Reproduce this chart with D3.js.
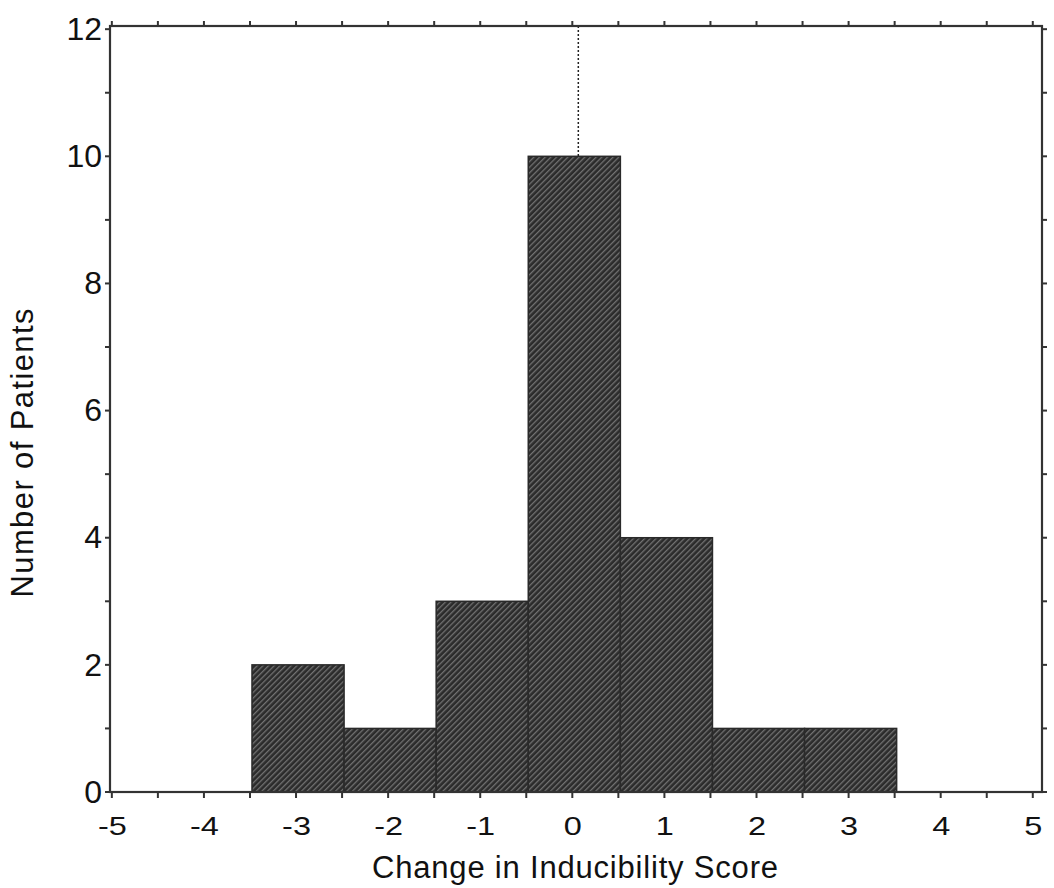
<!DOCTYPE html>
<html><head><meta charset="utf-8">
<script src="https://cdn.jsdelivr.net/npm/d3@7"></script>
<style>
html,body{margin:0;padding:0;background:#fff;}
svg text{font-family:"Liberation Sans",Arial,sans-serif;fill:#111;}
</style></head>
<body>
<svg id="chart" width="1054" height="888"></svg>
<script>
// Data
const binCenters = [-3, -2, -1, 0, 1, 2, 3];
const counts = [2, 1, 3, 10, 4, 1, 1];
const xTickValues = [-5, -4, -3, -2, -1, 0, 1, 2, 3, 4, 5];
const yTickValues = [0, 2, 4, 6, 8, 10, 12];
const xTitle = "Change in Inducibility Score";
const yTitle = "Number of Patients";
const refLineX = 0;

(function () {
const svg = d3.select("#chart");
const pLeft = 110, pRight = 1042, pTop = 26, pBottom = 792;

const x = d3.scaleLinear().domain([-5.02, 5.1]).range([pLeft, pRight]);
const y = d3.scaleLinear().domain([0, 12.05]).range([pBottom, pTop]);

// hatch pattern
const defs = svg.append("defs");
const pat = defs.append("pattern").attr("id", "hatch")
  .attr("patternUnits", "userSpaceOnUse").attr("width", 4).attr("height", 4)
  .attr("patternTransform", "rotate(-45)");
pat.append("rect").attr("width", 4).attr("height", 4).attr("fill", "#2b2b2b");
pat.append("rect").attr("width", 4).attr("height", 1.3).attr("fill", "#727272");

// bars
svg.append("g").selectAll("rect").data(binCenters).enter().append("rect")
  .attr("x", (d) => x(d - 0.5) + 2)
  .attr("width", (d) => x(d + 0.5) - x(d - 0.5))
  .attr("y", (d, i) => y(counts[i]))
  .attr("height", (d, i) => y(0) - y(counts[i]))
  .attr("fill", "url(#hatch)")
  .attr("stroke", "#2a2a2a").attr("stroke-width", 1.5);

// reference dotted line from top to top of bar at 0
const i0 = binCenters.indexOf(refLineX);
svg.append("line")
  .attr("x1", x(refLineX) + 6).attr("x2", x(refLineX) + 6)
  .attr("y1", pTop).attr("y2", y(counts[i0]))
  .attr("stroke", "#222").attr("stroke-width", 1.5).attr("stroke-dasharray", "2,2");

// frame
svg.append("rect").attr("x", pLeft).attr("y", pTop)
  .attr("width", pRight - pLeft).attr("height", pBottom - pTop)
  .attr("fill", "none").attr("stroke", "#333").attr("stroke-width", 2.2);

const halfTicks = d3.range(-5, 5.01, 0.5);
const unitTicks = d3.range(0, 12.01, 1);

// bottom axis
const xAxis = d3.axisBottom(x).tickValues(xTickValues).tickSize(0).tickPadding(25)
  .tickFormat(d => d < 0 ? "-" + Math.abs(d) : String(d));
const gx = svg.append("g").attr("transform", `translate(0,${pBottom})`).call(xAxis);
gx.select(".domain").remove();
gx.selectAll("text").attr("font-size", 25).attr("fill", "#111")
  .attr("font-family", "'Liberation Sans',Arial,sans-serif")
  .attr("transform", "scale(1.3,1)");
svg.append("g").selectAll("line").data(halfTicks).enter().append("line")
  .attr("x1", d => x(d)).attr("x2", d => x(d))
  .attr("y1", pBottom).attr("y2", pBottom + 6).attr("stroke", "#333").attr("stroke-width", 2);
// top ticks
svg.append("g").selectAll("line").data(halfTicks).enter().append("line")
  .attr("x1", d => x(d)).attr("x2", d => x(d))
  .attr("y1", pTop).attr("y2", pTop - 5).attr("stroke", "#333").attr("stroke-width", 2);

// left axis
const yAxis = d3.axisLeft(y).tickValues(yTickValues).tickSize(0).tickPadding(8)
  .tickFormat(d3.format("d"));
const gy = svg.append("g").attr("transform", `translate(${pLeft},0)`).call(yAxis);
gy.select(".domain").remove();
gy.selectAll("text").attr("font-size", 32).attr("fill", "#111")
  .attr("font-family", "'Liberation Sans',Arial,sans-serif");
svg.append("g").selectAll("line").data(unitTicks).enter().append("line")
  .attr("x1", pLeft - 5).attr("x2", pLeft)
  .attr("y1", d => y(d)).attr("y2", d => y(d)).attr("stroke", "#333").attr("stroke-width", 2);
// right ticks
svg.append("g").selectAll("line").data(unitTicks).enter().append("line")
  .attr("x1", pRight).attr("x2", pRight + 5)
  .attr("y1", d => y(d)).attr("y2", d => y(d)).attr("stroke", "#333").attr("stroke-width", 2);

// titles
svg.append("text").attr("x", 575).attr("y", 878)
  .attr("text-anchor", "middle").attr("font-size", 31)
  .attr("textLength", 406).attr("lengthAdjust", "spacing")
  .text(xTitle);
svg.append("text").attr("transform", `translate(33,453) rotate(-90)`)
  .attr("text-anchor", "middle").attr("font-size", 31)
  .attr("textLength", 289).attr("lengthAdjust", "spacing")
  .text(yTitle);
})();
</script>
</body></html>
